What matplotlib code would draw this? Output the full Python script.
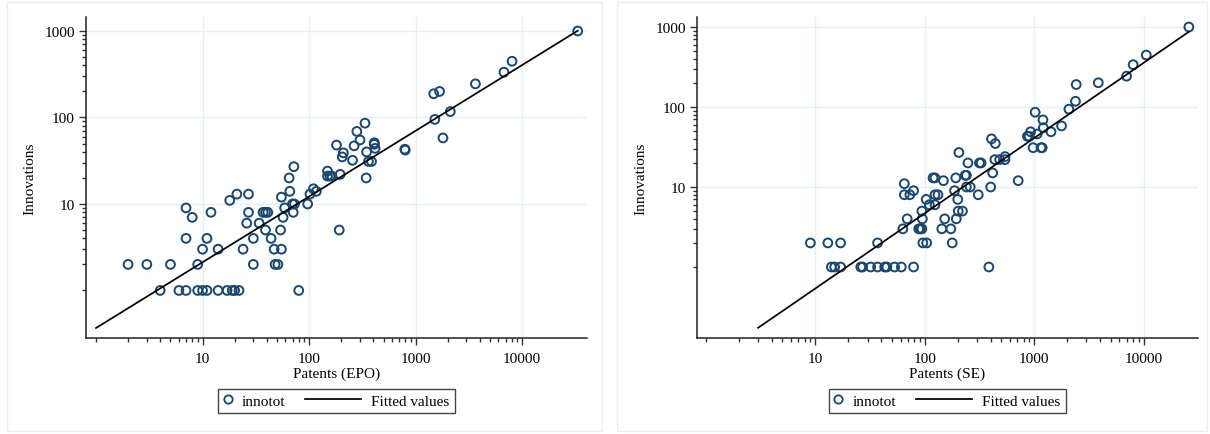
import numpy as np
import matplotlib
matplotlib.use('Agg')
import matplotlib.pyplot as plt
from matplotlib.lines import Line2D
from matplotlib.patches import Rectangle
from matplotlib.ticker import FixedLocator, NullFormatter
from matplotlib.legend_handler import HandlerBase

plt.rcParams['font.family'] = ['Liberation Serif', 'DejaVu Serif']
plt.rcParams['font.size'] = 11

# left panel: innovations vs EPO patents
epo_x = [4, 6, 7, 9, 10, 11, 14, 17, 19, 20, 22, 80,
         2, 3, 5, 9, 30, 48, 51,
         10, 14, 24, 47, 55,
         7, 11, 30, 44,
         39, 54, 192,
         26, 34,
         8, 57,
         12, 27, 37, 39, 41, 71,
         7, 59,
         70, 73, 97,
         18, 55, 21, 27, 102, 66, 117, 110, 65, 344, 72,
         149, 149, 157, 164, 196, 205, 210, 256, 181, 265, 301, 281, 335,
         347, 361, 386, 410, 410, 417, 792, 800,
         1517, 1480, 1680, 1808, 2120, 3647, 6760, 8050, 33300]
epo_y = [1, 1, 1, 1, 1, 1, 1, 1, 1, 1, 1, 1,
         2, 2, 2, 2, 2, 2, 2,
         3, 3, 3, 3, 3,
         4, 4, 4, 4,
         5, 5, 5,
         6, 6,
         7, 7,
         8, 8, 8, 8, 8, 8,
         9, 9,
         10, 10, 10,
         11, 12, 13, 13, 13, 14, 14, 15, 20, 20, 27,
         24, 21, 21, 21, 22, 35, 39, 32, 48, 47, 55, 69, 86,
         40, 31, 31, 51, 49, 44, 43, 42,
         95, 188, 200, 58, 117, 245, 334, 447, 1000]

# right panel: innovations vs SE patents
se_x = [14, 15, 17, 26, 27, 32, 37, 43, 45, 53, 61, 79, 385,
        9, 13, 17, 37, 96, 104, 178,
        63, 88, 91, 94, 143, 173,
        69, 95, 152, 194,
        94, 202, 221,
        110, 124,
        103, 200,
        65, 73, 124, 132, 308,
        79, 187,
        65,
        240, 260, 400,
        148, 714,
        119, 124, 192,
        234, 240, 417,
        248, 316, 327, 437, 483, 541, 541, 205,
        407, 441, 867, 897, 927, 1425, 1064, 977, 1153, 1183,
        1211, 1202, 1020, 1778, 2074, 2383, 2421, 3853, 6980, 8020, 10570, 25900]
se_y = [1, 1, 1, 1, 1, 1, 1, 1, 1, 1, 1, 1, 1,
        2, 2, 2, 2, 2, 2, 2,
        3, 3, 3, 3, 3, 3,
        4, 4, 4, 4,
        5, 5, 5,
        6, 6,
        7, 7,
        8, 8, 8, 8, 8,
        9, 9,
        11,
        10, 10, 10,
        12, 12,
        13, 13, 13,
        14, 14, 15,
        20, 20, 20, 22, 22, 22, 24, 27,
        40, 35, 43, 43, 49, 49, 46, 31, 31, 31,
        55, 69, 86, 58, 94, 118, 191, 201, 243, 338, 446, 1000]

# fitted values: log10(y) = a + b * log10(x)
epo_fit = (-0.434, 0.76)
se_fit = (-1.208, 0.94)
epo_fit_span = (1, 33300)
se_fit_span = (3, 25900)

x_ticks = [10, 100, 1000, 10000]
y_ticks = [10, 100, 1000]

NAVY = '#1a476f'
GRID = '#e6eff1'


class WideLineKey(HandlerBase):
    # fitted-values key is drawn wider than the marker key
    def create_artists(self, legend, orig_handle, xdescent, ydescent,
                       width, height, fontsize, trans):
        y = height / 2 - ydescent
        ln = Line2D([-xdescent - 3.2 * fontsize, -xdescent + width], [y, y],
                    color=orig_handle.get_color(), lw=orig_handle.get_linewidth())
        ln.set_transform(trans)
        return [ln]


def draw_panel(fig, rect, xs, ys, fit, span, xlim, ylim, xlabel):
    ax = fig.add_axes(rect)
    ax.set_xscale('log')
    ax.set_yscale('log')
    ax.set_xlim(*xlim)
    ax.set_ylim(*ylim)

    for t in x_ticks:
        ax.axvline(t, color=GRID, lw=1.0, zorder=0)
    for t in y_ticks:
        ax.axhline(t, color=GRID, lw=1.0, zorder=0)

    ax.scatter(xs, ys, s=40, facecolors='none', edgecolors=NAVY,
               linewidths=1.4, zorder=3)
    fx = np.logspace(np.log10(span[0]), np.log10(span[1]), 50)
    fy = 10 ** (fit[0] + fit[1] * np.log10(fx))
    fl, = ax.plot(fx, fy, color='black', lw=1.25, zorder=4)

    ax.xaxis.set_major_locator(FixedLocator(x_ticks))
    ax.yaxis.set_major_locator(FixedLocator(y_ticks))
    ax.set_xticklabels([str(t) for t in x_ticks])
    ax.set_yticklabels([str(t) for t in y_ticks])
    xminor = [m * 10 ** k for k in range(4) for m in range(1, 10)]
    yminor = [m * 10 ** k for k in range(3) for m in range(1, 10)]
    ax.xaxis.set_minor_locator(FixedLocator(xminor))
    ax.yaxis.set_minor_locator(FixedLocator(yminor))
    ax.xaxis.set_minor_formatter(NullFormatter())
    ax.yaxis.set_minor_formatter(NullFormatter())
    ax.tick_params(which='major', length=5, width=1, color='#333333',
                   labelsize=11, pad=3)
    ax.tick_params(axis='x', which='major', pad=5)
    ax.tick_params(which='minor', length=3, width=1, color='#333333')

    for side in ['top', 'right']:
        ax.spines[side].set_visible(False)
    for side in ['left', 'bottom']:
        ax.spines[side].set_color('#222222')
        ax.spines[side].set_linewidth(1.1)

    ax.set_xlabel(xlabel, fontsize=11, labelpad=1)
    ax.set_ylabel('Innovations', fontsize=11, labelpad=6)

    key_marker = Line2D([], [], ls='none', marker='o', markersize=6,
                        markerfacecolor='none', markeredgecolor=NAVY,
                        markeredgewidth=1.3)
    leg = ax.legend([key_marker, fl], ['innotot', 'Fitted values'],
                    loc='center', bbox_to_anchor=(0.5, -0.196), ncol=2,
                    handlelength=0.5, handletextpad=0.65, columnspacing=4.5,
                    borderpad=0.35, fancybox=False, framealpha=1,
                    edgecolor='#444444', fontsize=11,
                    handler_map={fl: WideLineKey()})
    leg.get_frame().set_linewidth(1.0)
    return ax


fig = plt.figure(figsize=(12.1, 4.35), dpi=100)
W, H = 1210, 435

# light panel borders
for x0, x1 in [(7, 602), (617, 1207)]:
    fig.patches.append(Rectangle((x0 / W, 3 / H), (x1 - x0) / W, 429 / H,
                                 transform=fig.transFigure, fill=False,
                                 edgecolor='#e8eef0', lw=1.0))

draw_panel(fig, [86 / W, 1 - 339 / H, 501 / W, 321 / H], epo_x, epo_y,
           epo_fit, epo_fit_span, (0.805, 40700), (0.282, 1452), 'Patents (EPO)')
draw_panel(fig, [697 / W, 1 - 339 / H, 501 / W, 321 / H], se_x, se_y,
           se_fit, se_fit_span, (0.828, 31400), (0.1296, 1334), 'Patents (SE)')

plt.savefig('out.png', dpi=100)
